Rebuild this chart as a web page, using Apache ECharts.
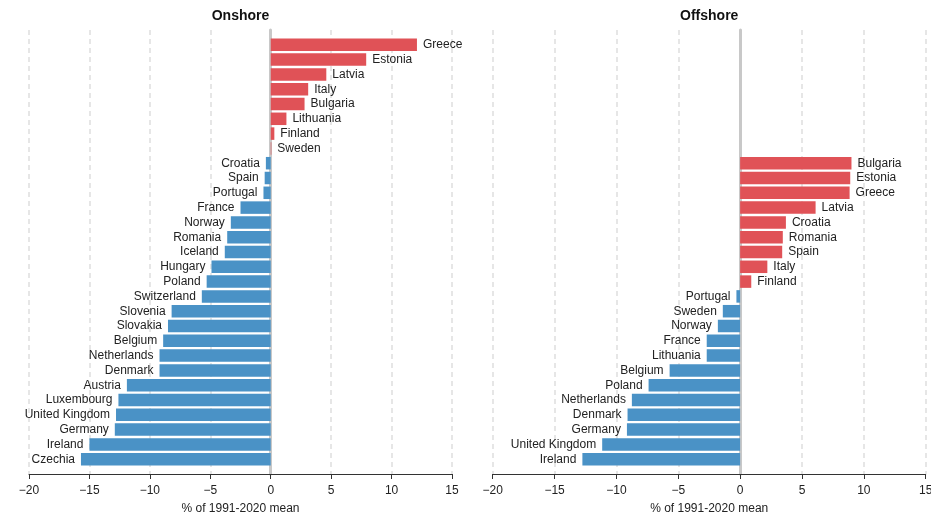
<!DOCTYPE html>
<html>
<head>
<meta charset="utf-8">
<script src="https://cdn.jsdelivr.net/npm/echarts@6/dist/echarts.min.js"></script>
<style>
  html, body { margin: 0; padding: 0; background: #fff; }
  #chart { width: 931px; height: 516px; }
</style>
</head>
<body>
<div id="chart"></div>
<script>
// onshore, top to bottom
const onshoreCountries = ['Greece', 'Estonia', 'Latvia', 'Italy', 'Bulgaria', 'Lithuania', 'Finland', 'Sweden',
  'Croatia', 'Spain', 'Portugal', 'France', 'Norway', 'Romania', 'Iceland', 'Hungary', 'Poland', 'Switzerland',
  'Slovenia', 'Slovakia', 'Belgium', 'Netherlands', 'Denmark', 'Austria', 'Luxembourg', 'United Kingdom',
  'Germany', 'Ireland', 'Czechia'];
const onshoreValues = [12.1, 7.9, 4.6, 3.1, 2.8, 1.3, 0.3, 0.05,
  -0.4, -0.5, -0.6, -2.5, -3.3, -3.6, -3.8, -4.9, -5.3, -5.7,
  -8.2, -8.5, -8.9, -9.2, -9.2, -11.9, -12.6, -12.8,
  -12.9, -15.0, -15.7];

// offshore, top to bottom
const offshoreCountries = ['Bulgaria', 'Estonia', 'Greece', 'Latvia', 'Croatia', 'Romania', 'Spain', 'Italy',
  'Finland', 'Portugal', 'Sweden', 'Norway', 'France', 'Lithuania', 'Belgium', 'Poland', 'Netherlands',
  'Denmark', 'Germany', 'United Kingdom', 'Ireland'];
const offshoreValues = [9.0, 8.9, 8.85, 6.1, 3.7, 3.45, 3.4, 2.2,
  0.9, -0.3, -1.4, -1.8, -2.7, -2.7, -5.7, -7.4, -8.75,
  -9.1, -9.15, -11.15, -12.75];

const xTicks = { min: -20, max: 15, interval: 5 };
const panelTitles = ['Onshore', 'Offshore'];
const axisName = '% of 1991-2020 mean';

const RED = '#e05257';
const BLUE = '#4a92c6';
const FONT = "'Liberation Sans', Arial, Helvetica, sans-serif";

// both panels share the same row count; offshore is padded at the top
const nRows = onshoreCountries.length;
function padRows(names, values) {
  const pad = nRows - names.length;
  return {
    cats: [''].concat(Array(pad).fill(''), names, ['']),
    vals: [null].concat(Array(pad).fill(null), values, [null])
  };
}
const on = padRows(onshoreCountries, onshoreValues);
const off = padRows(offshoreCountries, offshoreValues);

function barData(vals) {
  return vals.map(v => v === null ? '-' : {
    value: v,
    itemStyle: { color: v >= 0 ? RED : BLUE },
    label: { position: v >= 0 ? 'right' : 'left' }
  });
}

const grids = [
  { left: 29, right: 479, top: 30, bottom: 42, containLabel: false, outerBoundsMode: 'none' },
  { left: 492.7, right: 5.3, top: 30, bottom: 42, containLabel: false, outerBoundsMode: 'none' }
];

function xAxis(i) {
  return {
    type: 'value', gridIndex: i,
    min: xTicks.min, max: xTicks.max, interval: xTicks.interval,
    name: axisName, nameLocation: 'middle', nameGap: 29,
    nameTextStyle: { fontSize: 12, color: '#222', fontFamily: FONT },
    axisLine: { show: true, lineStyle: { color: '#333', width: 1 } },
    axisTick: { show: true, length: 5, lineStyle: { color: '#333' } },
    axisLabel: {
      fontSize: 12, color: '#222', fontFamily: FONT, margin: 11,
      formatter: v => String(v).replace('-', '\u2212')
    },
    splitLine: { show: true, lineStyle: { color: '#dedede', width: 1.5, type: [5, 4] } }
  };
}

function yAxis(i, cats) {
  return {
    type: 'category', gridIndex: i, data: cats, inverse: true, boundaryGap: false,
    axisLine: { show: true, onZero: true, lineStyle: { color: '#c8c8c8', width: 3 } },
    axisTick: { show: false },
    axisLabel: { show: false },
    splitLine: { show: false }
  };
}

function series(i, vals) {
  return {
    type: 'bar', xAxisIndex: i, yAxisIndex: i,
    barWidth: 12.5,
    data: barData(vals),
    label: {
      show: true, formatter: '{b}', distance: 6,
      fontSize: 12, color: '#222', fontFamily: FONT
    },
    z: 1
  };
}

const chart = echarts.init(document.getElementById('chart'), null, { renderer: 'canvas' });
chart.setOption({
  animation: false,
  grid: grids,
  xAxis: [xAxis(0), xAxis(1)],
  yAxis: [yAxis(0, on.cats), yAxis(1, off.cats)],
  series: [series(0, on.vals), series(1, off.vals)],
  graphic: panelTitles.map((t, i) => ({
    type: 'text',
    x: i === 0 ? 240.5 : 709.2,
    y: 16,
    style: {
      text: t, textAlign: 'center', textVerticalAlign: 'middle',
      fontSize: 14, fontWeight: 'bold', fill: '#111', fontFamily: FONT
    }
  }))
});
</script>
</body>
</html>
